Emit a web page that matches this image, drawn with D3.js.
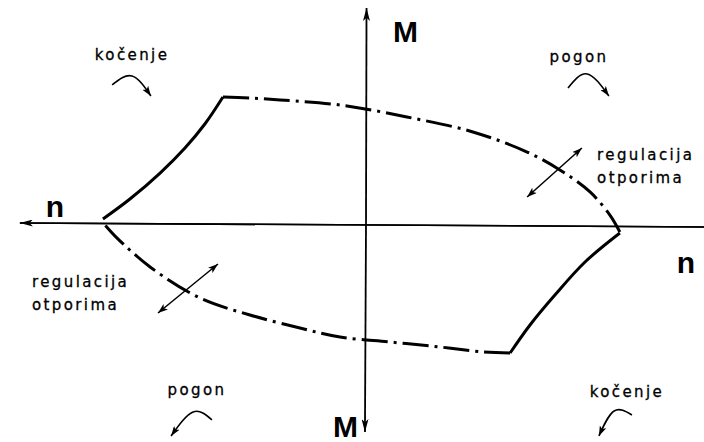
<!DOCTYPE html>
<html lang="en">
<head>
<meta charset="utf-8">
<title>kvadranti</title>
<script src="https://d3js.org/d3.v7.min.js"></script>
<style>
  body{margin:0;background:#fff;}
  .small{font-family:"DejaVu Sans",sans-serif;font-size:15px;letter-spacing:2.4px;fill:#000;stroke:#000;stroke-width:0.3px;}
  .big{font-family:"Liberation Sans",Arial,sans-serif;font-weight:bold;font-size:30px;fill:#000;}
</style>
</head>
<body>
<div id="chart1"></div>
<script>
// boundary of the working area, (n, M) in relative units
var upperDash = [[-0.546,1.0],[-0.44,0.992],[-0.328,0.977],[-0.099,0.9375],[0.156,0.844],[0.408,0.727],[0.615,0.57],[0.74,0.43],[0.855,0.258],[0.931,0.078],[0.969,-0.055]]
var rightSolid = [[0.969,-0.0625],[0.836,-0.289],[0.721,-0.547],[0.626,-0.781],[0.55,-1.0]]
var lowerDash = [[0.55,-1.0],[0.447,-0.992],[0.282,-0.953],[0.092,-0.914],[-0.099,-0.875],[-0.252,-0.805],[-0.443,-0.703],[-0.634,-0.57],[-0.824,-0.328],[-0.95,-0.102],[-0.996,0.0]]
var leftSolid = [[-1.004,0.047],[-0.901,0.203],[-0.786,0.406],[-0.691,0.602],[-0.615,0.789],[-0.546,1.0]]

// axes
var nAxis = [[-1.321,0.016],[1.359,-0.016]]
var mAxisUp = [[0.0,0.0],[0.002,1.695]]
var mAxisDown = [[0.0,0.0],[-0.004,-1.617]]

// labels
var bigLabels = [
  {t:"M", n:0.103, m:1.43, anchor:"start"},
  {t:"M", n:-0.126, m:-1.66, anchor:"start"},
  {t:"n", n:-1.187, m:0.0625, anchor:"middle"},
  {t:"n", n:1.221, m:-0.375, anchor:"middle"}
]
var quadrantLabels = [
  {t:"kočenje", n:-0.893, m:1.289},
  {t:"pogon", n:0.813, m:1.27},
  {t:"pogon", n:-0.645, m:-1.33},
  {t:"kočenje", n:0.996, m:-1.345}
]
var regLabels = [
  {lines:["regulacija","otporima"], n:0.882, m:[0.508,0.33]},
  {lines:["regulacija","otporima"], n:-1.275, m:[-0.484,-0.664]}
]
// curved rotation arrows (start, top, end)
var turnArrows = [
  [[-0.969,1.094],[-0.893,1.164],[-0.821,1.008]],
  [[0.771,1.07],[0.844,1.18],[0.927,1.008]],
  [[-0.588,-1.523],[-0.66,-1.461],[-0.744,-1.648]],
  [[1.015,-1.484],[0.947,-1.453],[0.889,-1.648]]
]
// double arrows across the dash-dot boundary
var regArrows = [
  [[0.615,0.219],[0.824,0.602]],
  [[-0.794,-0.6875],[-0.565,-0.305]]
]

var w = 704
var h = 442
var x = d3.scaleLinear().domain([-1,1]).range([104,628])
var y = d3.scaleLinear().domain([-1,1]).range([353,97])

var svg = d3.select("#chart1").append("svg")
  .attr("width",w).attr("height",h)

var defs = svg.append("defs")
function marker(id, len, half, orient){
  defs.append("marker")
    .attr("id",id)
    .attr("markerUnits","userSpaceOnUse")
    .attr("viewBox",(-len)+" "+(-half)+" "+(len+1)+" "+(half*2))
    .attr("refX",0).attr("refY",0)
    .attr("markerWidth",len+1).attr("markerHeight",half*2)
    .attr("orient",orient)
    .append("path")
    .attr("d","M0,0L"+(-len)+","+(-half)+"L"+(-len*0.75)+",0L"+(-len)+","+half+"Z")
    .attr("fill","#000")
}
marker("axisHead",13,3.5,"auto")
marker("smallHead",10,3.5,"auto")
marker("smallHeadStart",10,3.5,"auto-start-reverse")
marker("turnHead",10,3.5,"auto")

var line = d3.line().x(function(d){return x(d[0])}).y(function(d){return y(d[1])})
var smooth = d3.line().x(function(d){return x(d[0])}).y(function(d){return y(d[1])}).curve(d3.curveCatmullRom)

// axes, arrow on both ends of n
svg.append("path").attr("d",line(nAxis.slice().reverse()))
  .attr("stroke","#000").attr("stroke-width",1.6).attr("fill","none")
  .attr("marker-end","url(#axisHead)")
svg.append("path").attr("d",line(nAxis))
  .attr("stroke","#000").attr("stroke-width",1.6).attr("fill","none")
  .attr("marker-end","url(#axisHead)")
svg.append("path").attr("d",line(mAxisUp))
  .attr("stroke","#000").attr("stroke-width",1.8).attr("fill","none")
  .attr("marker-end","url(#axisHead)")
svg.append("path").attr("d",line(mAxisDown))
  .attr("stroke","#000").attr("stroke-width",1.8).attr("fill","none")
  .attr("marker-end","url(#axisHead)")

// boundary
svg.selectAll("path.solid").data([leftSolid,rightSolid]).enter().append("path")
  .attr("class","solid")
  .attr("d",function(d){return smooth(d)})
  .attr("fill","none").attr("stroke","#000").attr("stroke-width",3)
svg.selectAll("path.dash").data([upperDash,lowerDash]).enter().append("path")
  .attr("class","dash")
  .attr("d",function(d){return smooth(d)})
  .attr("fill","none").attr("stroke","#000").attr("stroke-width",3)
  .attr("stroke-dasharray","26,6,3,6")

// double arrows
svg.selectAll("path.reg").data(regArrows).enter().append("path")
  .attr("class","reg")
  .attr("d",function(d){return line(d)})
  .attr("fill","none").attr("stroke","#000").attr("stroke-width",1.5)
  .attr("marker-start","url(#smallHeadStart)")
  .attr("marker-end","url(#smallHead)")

// turning arrows
var arc = d3.line().x(function(p){return x(p[0])}).y(function(p){return y(p[1])}).curve(d3.curveNatural)
svg.selectAll("path.turn").data(turnArrows).enter().append("path")
  .attr("class","turn")
  .attr("d",function(d){return arc(d)})
  .attr("fill","none").attr("stroke","#000").attr("stroke-width",1.6)
  .attr("marker-end","url(#turnHead)")

// text
svg.selectAll("text.big").data(bigLabels).enter().append("text")
  .attr("class","big")
  .attr("x",function(d){return x(d.n)}).attr("y",function(d){return y(d.m)})
  .attr("text-anchor",function(d){return d.anchor})
  .text(function(d){return d.t})
svg.selectAll("text.q").data(quadrantLabels).enter().append("text")
  .attr("class","small q")
  .attr("x",function(d){return x(d.n)}).attr("y",function(d){return y(d.m)})
  .attr("text-anchor","middle")
  .text(function(d){return d.t})
regLabels.forEach(function(r){
  r.lines.forEach(function(t,i){
    svg.append("text").attr("class","small")
      .attr("x",x(r.n)).attr("y",y(r.m[i]))
      .text(t)
  })
})
</script>
</body>
</html>
